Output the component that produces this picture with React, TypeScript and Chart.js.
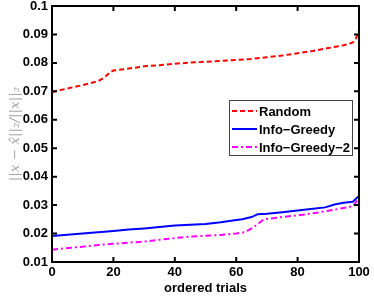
import React, { useEffect, useRef } from "react";
import { Chart, registerables } from "chart.js";

Chart.register(...registerables);

const randomX = [0, 5, 10, 15, 17, 19, 20, 25, 30, 35, 40, 45, 50, 55, 60, 65, 70, 75, 80, 85, 90, 95, 97, 98, 99, 100];
const randomY = [0.0697, 0.071, 0.0722, 0.0736, 0.0748, 0.0768, 0.0773, 0.078, 0.0788, 0.0792, 0.0797, 0.0801, 0.0804, 0.0807, 0.081, 0.0814, 0.082, 0.0826, 0.0834, 0.0842, 0.0852, 0.0862, 0.0868, 0.0872, 0.0885, 0.0915];

const greedyX = [0, 5, 10, 15, 20, 25, 30, 35, 40, 45, 50, 55, 60, 62, 65, 67, 70, 75, 80, 85, 89, 92, 95, 98, 99, 100];
const greedyY = [0.0191, 0.0196, 0.02, 0.0205, 0.0209, 0.0214, 0.0218, 0.0223, 0.0228, 0.0231, 0.0234, 0.024, 0.0248, 0.025, 0.0258, 0.0268, 0.027, 0.0275, 0.0281, 0.0287, 0.0292, 0.0302, 0.0308, 0.0312, 0.0322, 0.0332];

const greedy2X = [0, 5, 10, 15, 20, 25, 30, 35, 40, 45, 50, 55, 60, 63, 66, 69, 72, 75, 80, 85, 90, 95, 98, 99, 100];
const greedy2Y = [0.0143, 0.0149, 0.0154, 0.016, 0.0164, 0.0168, 0.0172, 0.0178, 0.0184, 0.0189, 0.0192, 0.0195, 0.02, 0.0205, 0.0225, 0.025, 0.0254, 0.0258, 0.0264, 0.0271, 0.028, 0.029, 0.0296, 0.031, 0.0328];

const seriesLabels = ["Random", "Info\u2212Greedy", "Info\u2212Greedy\u22122"];
const xTicks = [0, 20, 40, 60, 80, 100];
const yTicks = [0.01, 0.02, 0.03, 0.04, 0.05, 0.06, 0.07, 0.08, 0.09, 0.1];
const xTitle = "ordered trials";
const yTitle = "||x \u2212 x\u0302||\u2082/||x||\u2082";

const FONT = "'Liberation Sans', Arial, sans-serif";

const toPoints = (xs: number[], ys: number[]) => xs.map((x, i) => ({ x, y: ys[i] }));

const framePlugin = {
  id: "matlabFrame",
  afterDatasetsDraw(chart: any) {
    const { ctx, chartArea } = chart;
    const { left, right, top, bottom } = chartArea;
    const xs = chart.scales.x;
    const ys = chart.scales.y;
    ctx.save();
    ctx.strokeStyle = "#000";
    ctx.lineWidth = 2;
    ctx.strokeRect(left, top, right - left, bottom - top);
    ctx.lineWidth = 2;
    const len = 5;
    ctx.beginPath();
    xTicks.forEach((v) => {
      const px = xs.getPixelForValue(v);
      ctx.moveTo(px, bottom);
      ctx.lineTo(px, bottom - len);
      ctx.moveTo(px, top);
      ctx.lineTo(px, top + len);
    });
    yTicks.forEach((v) => {
      const py = ys.getPixelForValue(v);
      ctx.moveTo(left, py);
      ctx.lineTo(left + len, py);
      ctx.moveTo(right, py);
      ctx.lineTo(right - len, py);
    });
    ctx.stroke();

    // legend box
    const bx = 229, by = 100, bw = 123, bh = 55;
    ctx.fillStyle = "#fff";
    ctx.fillRect(bx, by, bw, bh);
    ctx.strokeStyle = "#444";
    ctx.lineWidth = 1;
    ctx.strokeRect(bx + 0.5, by + 0.5, bw, bh);
    ctx.font = `bold 13px ${FONT}`;
    ctx.textBaseline = "middle";
    ctx.textAlign = "left";
    chart.data.datasets.forEach((ds: any, i: number) => {
      const y = by + 11 + i * 18;
      ctx.strokeStyle = ds.borderColor;
      ctx.lineWidth = ds.borderWidth;
      ctx.setLineDash(ds.borderDash || []);
      ctx.beginPath();
      ctx.moveTo(bx + 3, y);
      ctx.lineTo(bx + 28, y);
      ctx.stroke();
      ctx.setLineDash([]);
      ctx.fillStyle = "#000";
      ctx.fillText(ds.label, bx + 30, y + 1);
    });
    ctx.restore();
  },
};

export default function App() {
  const ref = useRef<HTMLCanvasElement>(null);
  useEffect(() => {
    document.body.style.margin = "0";
    const canvas = ref.current;
    if (!canvas) return;
    const chart = new Chart(canvas, {
      type: "line",
      data: {
        datasets: [
          {
            label: seriesLabels[0],
            data: toPoints(randomX, randomY),
            borderColor: "#ff0000",
            borderWidth: 2,
            borderDash: [5, 3],
            pointRadius: 0,
            fill: false,
          },
          {
            label: seriesLabels[1],
            data: toPoints(greedyX, greedyY),
            borderColor: "#0000ff",
            borderWidth: 2,
            pointRadius: 0,
            fill: false,
          },
          {
            label: seriesLabels[2],
            data: toPoints(greedy2X, greedy2Y),
            borderColor: "#ff00ff",
            borderWidth: 2,
            borderDash: [6, 3, 2, 3],
            pointRadius: 0,
            fill: false,
          },
        ],
      },
      options: {
        responsive: false,
        animation: false,
        layout: { padding: { left: 0, right: 15, top: 6, bottom: 4 } },
        plugins: {
          legend: { display: false },
          tooltip: { enabled: false },
        },
        scales: {
          x: {
            type: "linear",
            min: 0,
            max: 100,
            grid: { display: false, drawTicks: false },
            border: { display: false },
            afterBuildTicks: (s: any) => {
              s.ticks = xTicks.map((v) => ({ value: v }));
            },
            afterFit: (s: any) => {
              s.height = 34;
            },
            ticks: {
              padding: 3,
              color: "#000",
              maxRotation: 0,
              font: { family: FONT, size: 13, weight: "bold" },
              callback: (v: any) => String(v),
            },
            title: {
              display: true,
              text: xTitle,
              color: "#000",
              padding: 0,
              font: { family: FONT, size: 13, weight: "bold" },
            },
          },
          y: {
            type: "linear",
            min: 0.01,
            max: 0.1,
            grid: { display: false, drawTicks: false },
            border: { display: false },
            afterBuildTicks: (s: any) => {
              s.ticks = yTicks.map((v) => ({ value: v }));
            },
            afterFit: (s: any) => {
              s.width = 52;
              s.paddingTop = 0;
              s.paddingBottom = 0;
            },
            ticks: {
              padding: 4,
              color: "#000",
              font: { family: FONT, size: 13, weight: "bold" },
              callback: (v: any) => String(Number(Number(v).toFixed(2))),
            },
            title: {
              display: true,
              text: yTitle,
              color: "#a8a8a8",
              padding: 0,
              font: { family: "'DejaVu Serif', serif", size: 13.5, style: "italic", lineHeight: 2.35 },
            },
          },
        },
      },
      plugins: [framePlugin],
    });
    return () => chart.destroy();
  }, []);
  return (
    <div style={{ width: 374, height: 300 }}>
      <canvas ref={ref} width={374} height={300} style={{ display: "block" }} />
    </div>
  );
}
